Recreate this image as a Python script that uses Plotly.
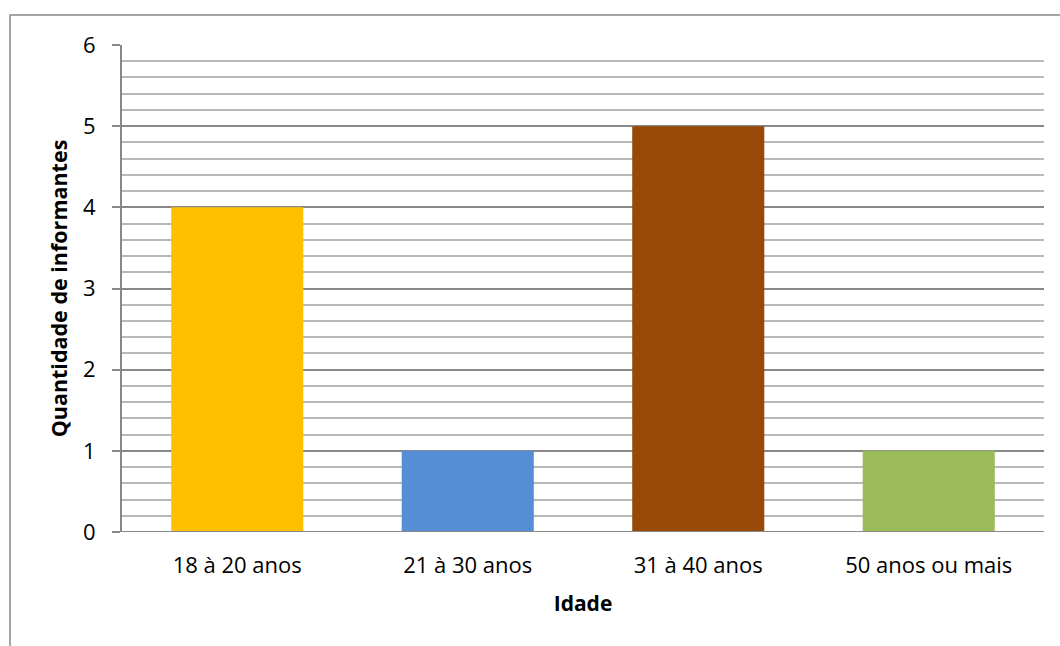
import plotly.graph_objects as go

categories = ["18 à 20 anos", "21 à 30 anos", "31 à 40 anos", "50 anos ou mais"]
values = [4, 1, 5, 1]
colors = ["#FFC000", "#558ED5", "#984807", "#9BBB59"]

W, H = 1060, 646
L, R, T, B = 122, 16, 45, 114
pw, ph = W - L - R, H - T - B

fig = go.Figure(go.Bar(x=categories, y=values, marker=dict(color=colors, line=dict(width=0)),
                       width=0.573))

font = "Open Sans, Carlito, Calibri, sans-serif"
fig.update_layout(
    width=W, height=H,
    margin=dict(l=L, r=R, t=T, b=B),
    plot_bgcolor="white", paper_bgcolor="white",
    showlegend=False,
    font=dict(family=font, size=21, color="black"),
    xaxis=dict(
        showgrid=False, showline=False, ticks="", tickfont=dict(size=22),
        ticklabelstandoff=18,
        title=dict(text="<b>Idade</b>", font=dict(size=21), standoff=18),
    ),
    yaxis=dict(
        range=[0, 6], dtick=1, tick0=0,
        showgrid=True, gridcolor="#888888", gridwidth=2,
        showline=True, linecolor="#888888", linewidth=2,
        ticks="outside", ticklen=8, tickcolor="#888888", tickwidth=2,
        ticklabelstandoff=12,
        tickfont=dict(size=22),
        zeroline=False,
        minor=dict(dtick=0.2, showgrid=True, gridcolor="#b8b8b8", gridwidth=2, ticks=""),
        title=dict(text="<b>Quantidade de informantes</b>", font=dict(size=21.5), standoff=9),
    ),
    shapes=[
        dict(type="rect", xref="paper", yref="paper",
             x0=(10 - L) / pw, x1=(W + 5 - L) / pw,
             y0=-(B + 10) / ph, y1=(H - B - 15) / ph,
             line=dict(color="#888888", width=1.5), fillcolor="rgba(0,0,0,0)", layer="below"),
        dict(type="line", xref="paper", yref="y", x0=0, x1=1, y0=0, y1=0,
             line=dict(color="#888888", width=2)),
    ],
)

fig.write_html("out.html")
